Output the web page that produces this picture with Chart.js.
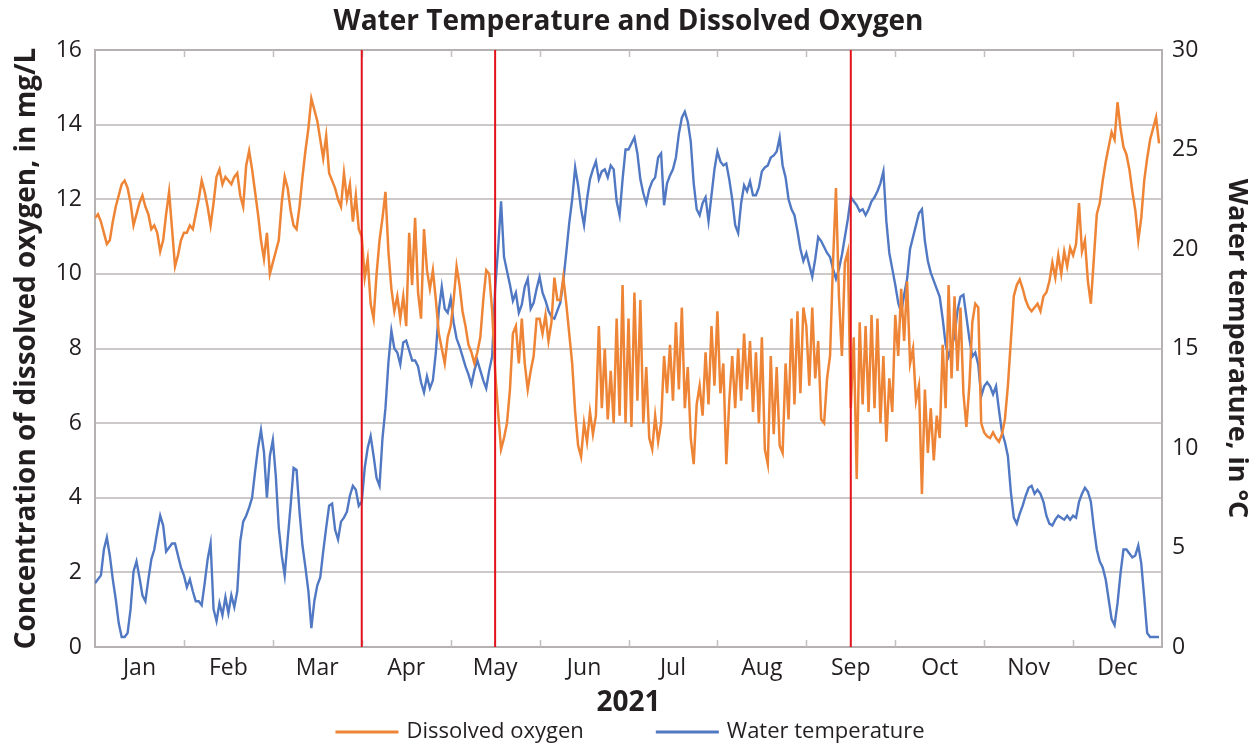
<!DOCTYPE html>
<html>
<head>
<meta charset="utf-8">
<title>Water Temperature and Dissolved Oxygen</title>
<script src="https://cdn.jsdelivr.net/npm/chart.js@4.4.1/dist/chart.umd.min.js"></script>
<style>
  html, body { margin: 0; padding: 0; background: #ffffff; }
  #wrap { width: 1257px; height: 746px; position: relative; }
</style>
</head>
<body>
<div id="wrap"><canvas id="chart"></canvas></div>
<script>
// Month labels (one per month, placed at mid-month)
const months = ['Jan', 'Feb', 'Mar', 'Apr', 'May', 'Jun', 'Jul', 'Aug', 'Sep', 'Oct', 'Nov', 'Dec'];
const samplesPerMonth = 30;

// Dissolved oxygen, mg/L (30 readings per month)
const oxygenJan = [11.5, 11.6, 11.4, 11.1, 10.8, 10.9, 11.4, 11.8, 12.1, 12.4, 12.5, 12.3, 11.9, 11.3, 11.6, 11.9, 12.1, 11.8, 11.6, 11.2, 11.3, 11.1, 10.6, 10.9, 11.6, 12.2, 11.2, 10.2, 10.5, 10.9];
const oxygenFeb = [11.1, 11.1, 11.3, 11.2, 11.6, 12.0, 12.5, 12.2, 11.8, 11.3, 11.9, 12.6, 12.8, 12.4, 12.6, 12.5, 12.4, 12.6, 12.7, 12.1, 11.8, 12.9, 13.3, 12.8, 12.2, 11.6, 10.9, 10.4, 11.1, 10.0];
const oxygenMar = [10.3, 10.6, 10.9, 11.9, 12.6, 12.3, 11.7, 11.3, 11.2, 11.8, 12.6, 13.3, 13.9, 14.7, 14.4, 14.1, 13.6, 13.1, 13.7, 12.7, 12.5, 12.3, 12.0, 11.8, 12.7, 12.0, 12.4, 11.4, 12.1, 11.2];
const oxygenApr = [11.0, 9.9, 10.4, 9.2, 8.8, 10.0, 10.9, 11.5, 12.2, 10.6, 9.6, 9.0, 9.4, 8.8, 9.4, 8.6, 11.1, 9.7, 11.5, 9.5, 8.8, 11.2, 10.1, 9.6, 10.1, 9.3, 8.4, 8.0, 7.6, 8.3];
const oxygenMay = [8.6, 9.3, 10.2, 9.7, 9.0, 8.6, 8.1, 7.9, 7.6, 7.9, 8.3, 9.3, 10.1, 10.0, 9.0, 7.4, 6.3, 5.3, 5.6, 6.0, 6.9, 8.4, 8.6, 7.6, 8.8, 7.6, 6.9, 7.4, 7.8, 8.8];
const oxygenJun = [8.8, 8.4, 8.9, 8.2, 8.7, 9.9, 9.3, 9.3, 9.9, 9.2, 8.4, 7.6, 6.3, 5.4, 5.1, 6.0, 5.5, 6.3, 5.7, 6.2, 8.6, 6.4, 8.0, 6.1, 7.4, 6.0, 8.8, 6.2, 9.7, 6.0];
const oxygenJul = [8.8, 5.9, 9.5, 6.6, 9.3, 6.0, 7.5, 5.6, 5.3, 6.2, 5.5, 6.0, 7.8, 6.8, 8.1, 6.6, 8.7, 6.9, 9.1, 6.4, 7.5, 5.6, 4.9, 6.5, 7.0, 6.2, 7.9, 6.5, 8.6, 7.0];
const oxygenAug = [9.0, 6.8, 7.6, 4.9, 6.6, 7.8, 6.4, 8.0, 6.6, 8.4, 6.9, 8.2, 6.3, 7.9, 6.0, 8.3, 5.3, 4.9, 7.8, 5.7, 7.5, 5.4, 5.2, 7.6, 6.1, 8.8, 6.5, 9.0, 6.8, 9.1];
const oxygenSep = [8.6, 7.0, 9.1, 7.2, 8.2, 6.1, 6.0, 7.2, 7.8, 10.3, 12.3, 9.4, 7.8, 10.3, 10.6, 6.4, 8.3, 4.5, 8.7, 6.5, 8.6, 6.3, 8.9, 6.4, 8.8, 6.0, 7.8, 5.5, 7.2, 6.3];
const oxygenOct = [8.9, 7.8, 9.6, 8.2, 9.8, 7.6, 8.0, 6.6, 7.0, 4.1, 6.9, 5.2, 6.4, 5.0, 6.2, 5.6, 8.1, 6.4, 9.7, 7.2, 9.4, 7.4, 9.1, 6.8, 5.9, 7.0, 8.7, 9.2, 9.1, 6.0];
const oxygenNov = [5.75, 5.65, 5.6, 5.75, 5.6, 5.5, 5.7, 6.1, 7.0, 8.2, 9.4, 9.7, 9.85, 9.6, 9.3, 9.1, 9.0, 9.1, 9.2, 9.0, 9.4, 9.5, 9.8, 10.3, 9.9, 10.5, 10.0, 10.6, 10.2, 10.7];
const oxygenDec = [10.5, 10.8, 11.9, 10.6, 10.9, 9.8, 9.2, 10.4, 11.6, 11.9, 12.5, 13.0, 13.4, 13.8, 13.6, 14.6, 13.9, 13.4, 13.2, 12.8, 12.2, 11.7, 10.9, 11.5, 12.5, 13.1, 13.6, 13.9, 14.2, 13.5];

// Water temperature, degrees C (30 readings per month)
const tempJan = [3.2, 3.4, 3.6, 4.9, 5.5, 4.6, 3.4, 2.4, 1.2, 0.5, 0.5, 0.7, 1.9, 3.8, 4.3, 3.5, 2.6, 2.3, 3.4, 4.4, 4.9, 5.8, 6.6, 6.1, 4.8, 5.0, 5.2, 5.2, 4.6, 4.0];
const tempFeb = [3.6, 3.0, 3.4, 2.8, 2.3, 2.3, 2.1, 3.2, 4.4, 5.2, 1.9, 1.3, 2.2, 1.6, 2.5, 1.7, 2.6, 2.0, 2.8, 5.3, 6.3, 6.6, 7.0, 7.5, 8.8, 10.0, 10.9, 9.8, 7.5, 9.6];
const tempMar = [10.4, 8.6, 6.0, 4.6, 3.6, 5.4, 7.1, 9.0, 8.9, 6.8, 5.1, 4.0, 2.8, 0.95, 2.3, 3.1, 3.5, 4.8, 6.0, 7.1, 7.2, 5.9, 5.4, 6.3, 6.5, 6.8, 7.6, 8.1, 7.9, 7.1];
const tempApr = [7.3, 9.0, 10.0, 10.6, 9.6, 8.5, 8.1, 10.5, 12.0, 14.3, 15.9, 15.0, 14.8, 14.2, 15.3, 15.4, 14.9, 14.4, 14.4, 14.1, 13.3, 12.8, 13.6, 13.0, 13.4, 14.8, 16.9, 18.1, 17.0, 16.8];
const tempMay = [17.5, 16.3, 15.5, 15.1, 14.6, 14.1, 13.7, 13.2, 13.9, 14.4, 13.9, 13.4, 13.0, 13.9, 14.6, 18.0, 20.0, 22.4, 19.6, 18.9, 18.2, 17.4, 17.8, 16.8, 17.2, 18.1, 18.5, 17.0, 17.3, 18.0];
const tempJun = [18.6, 17.8, 17.4, 16.9, 16.6, 16.5, 16.9, 17.3, 18.4, 19.8, 21.3, 22.5, 24.1, 23.2, 22.0, 21.2, 22.5, 23.5, 24.0, 24.4, 23.5, 23.9, 24.0, 23.6, 24.2, 24.0, 22.4, 21.7, 23.5, 25.0];
const tempJul = [25.0, 25.3, 25.6, 24.8, 23.5, 22.8, 22.3, 23.0, 23.4, 23.6, 24.6, 24.8, 22.2, 23.3, 23.7, 24.0, 24.6, 25.8, 26.6, 26.9, 26.4, 25.4, 23.3, 22.0, 21.7, 22.3, 22.6, 21.4, 22.7, 24.0];
const tempAug = [24.9, 24.4, 24.2, 24.3, 23.5, 22.5, 21.2, 20.8, 22.3, 23.2, 22.9, 23.4, 22.7, 22.7, 23.1, 23.9, 24.1, 24.2, 24.6, 24.7, 24.9, 25.6, 24.2, 23.6, 22.5, 22.0, 21.7, 20.9, 20.0, 19.4];
const tempSep = [19.8, 19.2, 18.6, 19.5, 20.6, 20.4, 20.1, 19.8, 19.6, 19.0, 18.5, 19.0, 19.7, 20.6, 21.5, 22.6, 22.4, 22.2, 21.9, 22.0, 21.7, 22.0, 22.4, 22.6, 22.9, 23.3, 23.9, 21.4, 19.8, 19.0];
const tempOct = [18.2, 17.3, 16.8, 17.7, 18.5, 20.0, 20.6, 21.2, 21.8, 22.0, 20.4, 19.4, 18.8, 18.4, 18.0, 17.6, 16.5, 15.2, 14.6, 15.1, 15.6, 16.9, 17.6, 17.7, 16.6, 15.5, 14.6, 14.8, 14.2, 12.6];
const tempNov = [13.1, 13.3, 13.1, 12.7, 13.1, 11.9, 10.8, 10.3, 9.6, 7.8, 6.5, 6.2, 6.7, 7.1, 7.6, 8.0, 8.1, 7.7, 7.9, 7.7, 7.3, 6.6, 6.2, 6.1, 6.4, 6.6, 6.5, 6.4, 6.6, 6.4];
const tempDec = [6.6, 6.5, 7.3, 7.7, 8.0, 7.8, 7.3, 6.0, 4.9, 4.3, 4.0, 3.4, 2.4, 1.4, 1.1, 2.2, 3.7, 4.9, 4.9, 4.7, 4.5, 4.6, 5.1, 4.2, 2.5, 0.7, 0.5, 0.5, 0.5, 0.5];

// Sampling-event markers, in months from 1 January
const eventMarkers = [3, 4.5, 8.5];

const dissolvedOxygen = [].concat(oxygenJan, oxygenFeb, oxygenMar, oxygenApr, oxygenMay, oxygenJun,
  oxygenJul, oxygenAug, oxygenSep, oxygenOct, oxygenNov, oxygenDec);
const waterTemperature = [].concat(tempJan, tempFeb, tempMar, tempApr, tempMay, tempJun,
  tempJul, tempAug, tempSep, tempOct, tempNov, tempDec);

const toPoints = values => values.map((v, i) => ({ x: i / samplesPerMonth, y: v }));

const FONT = "'Open Sans', 'DejaVu Sans', sans-serif";
const INK = '#231f20';
const ORANGE = '#ee8536';
const BLUE = '#5178c2';

// Plot frame, month boundary ticks and the red event lines
const framePlugin = {
  id: 'frame',
  beforeDatasetsDraw(chart) {
    const { ctx, chartArea: a, scales: { x } } = chart;
    ctx.save();
    ctx.strokeStyle = '#b5b1b1';
    ctx.lineWidth = 2;
    ctx.strokeRect(a.left, a.top, a.right - a.left, a.bottom - a.top);
    ctx.lineWidth = 1.5;
    ctx.strokeStyle = '#c4c0c0';
    for (let m = 1; m < months.length; m++) {
      const px = Math.round(x.getPixelForValue(m)) + 0.5;
      ctx.beginPath();
      ctx.moveTo(px, a.top); ctx.lineTo(px, a.top + 7);
      ctx.moveTo(px, a.bottom); ctx.lineTo(px, a.bottom - 7);
      ctx.stroke();
    }
    ctx.restore();
  },
  afterDatasetsDraw(chart) {
    const { ctx, chartArea: a, scales: { x } } = chart;
    ctx.save();
    ctx.strokeStyle = '#e3121b';
    ctx.lineWidth = 2;
    eventMarkers.forEach(m => {
      const px = x.getPixelForValue(m);
      ctx.beginPath();
      ctx.moveTo(px, a.top);
      ctx.lineTo(px, a.bottom);
      ctx.stroke();
    });
    ctx.restore();
  }
};

// Legend row below the axis title: a line sample and the series name for each dataset
const lineLegendPlugin = {
  id: 'lineLegend',
  afterDraw(chart, args, opts) {
    const { ctx } = chart;
    ctx.save();
    ctx.font = `${opts.fontSize}px ${FONT}`;
    ctx.textBaseline = 'middle';
    ctx.textAlign = 'left';
    const items = chart.data.datasets.map(ds => ({
      label: ds.label,
      color: ds.borderColor,
      width: opts.lineLength + opts.textGap + ctx.measureText(ds.label).width
    }));
    const total = items.reduce((s, it) => s + it.width, 0) + opts.itemGap * (items.length - 1);
    let x = opts.centerX - total / 2;
    items.forEach(it => {
      ctx.strokeStyle = it.color;
      ctx.lineWidth = opts.lineWidth;
      ctx.beginPath();
      ctx.moveTo(x, opts.y);
      ctx.lineTo(x + opts.lineLength, opts.y);
      ctx.stroke();
      ctx.fillStyle = INK;
      ctx.fillText(it.label, x + opts.lineLength + opts.textGap, opts.y);
      x += it.width + opts.itemGap;
    });
    ctx.restore();
  }
};

new Chart(document.getElementById('chart'), {
  type: 'line',
  data: {
    datasets: [
      {
        label: 'Dissolved oxygen',
        data: toPoints(dissolvedOxygen),
        yAxisID: 'y',
        borderColor: ORANGE,
        backgroundColor: ORANGE,
        borderWidth: 2.5,
        pointRadius: 0,
        tension: 0
      },
      {
        label: 'Water temperature',
        data: toPoints(waterTemperature),
        yAxisID: 'y2',
        borderColor: BLUE,
        backgroundColor: BLUE,
        borderWidth: 2.4,
        pointRadius: 0,
        tension: 0
      }
    ]
  },
  options: {
    responsive: true,
    maintainAspectRatio: false,
    animation: false,
    layout: { padding: 0 },
    plugins: {
      title: {
        display: true,
        text: 'Water Temperature and Dissolved Oxygen',
        color: INK,
        font: { family: FONT, size: 28, weight: 'bold' },
        padding: { top: 5, bottom: 11.4 }
      },
      legend: { display: false },
      tooltip: { enabled: false },
      lineLegend: {
        y: 732,
        centerX: 630,
        fontSize: 22,
        lineLength: 63,
        lineWidth: 3,
        textGap: 8,
        itemGap: 72
      }
    },
    scales: {
      x: {
        type: 'linear',
        min: 0,
        max: 12,
        afterBuildTicks: scale => {
          scale.ticks = months.map((_, i) => ({ value: i + 0.5 }));
        },
        afterFit: scale => { scale.height = 99; },
        ticks: {
          callback: value => months[Math.floor(value)],
          color: INK,
          font: { family: FONT, size: 23 },
          padding: 8,
          maxRotation: 0,
          autoSkip: false
        },
        grid: { display: false, drawTicks: false },
        border: { display: false },
        title: {
          display: true,
          text: '2021',
          color: INK,
          font: { family: FONT, size: 28, weight: 'bold' },
          padding: { top: 0, bottom: 26 }
        }
      },
      y: {
        position: 'left',
        min: 0,
        max: 16,
        afterFit: scale => { scale.width = 95; },
        ticks: {
          stepSize: 2,
          color: INK,
          font: { family: FONT, size: 23 },
          padding: 13
        },
        grid: { color: '#cdc9c9', lineWidth: 2, drawTicks: false },
        border: { display: false },
        title: {
          display: true,
          text: 'Concentration of dissolved oxygen, in mg/L',
          color: INK,
          font: { family: FONT, size: 28, weight: 'bold' },
          padding: { top: 10, bottom: 0 }
        }
      },
      y2: {
        position: 'right',
        min: 0,
        max: 30,
        afterFit: scale => { scale.width = 95; },
        ticks: {
          stepSize: 5,
          color: INK,
          font: { family: FONT, size: 23 },
          padding: 10
        },
        grid: { display: false, drawTicks: false },
        border: { display: false },
        title: {
          display: true,
          text: 'Water temperature, in °C',
          color: INK,
          font: { family: FONT, size: 27, weight: 'bold' },
          padding: { top: 4, bottom: 0 }
        }
      }
    }
  },
  plugins: [framePlugin, lineLegendPlugin]
});
</script>
</body>
</html>
